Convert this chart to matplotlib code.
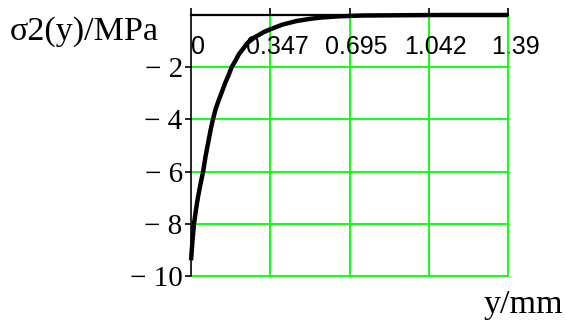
import matplotlib
matplotlib.use("Agg")
import matplotlib.pyplot as plt
import matplotlib.transforms as mtrans

# depth y [mm] and stress sigma_2 [MPa]
y_mm = [0, 0.006, 0.013, 0.021, 0.03, 0.041, 0.053, 0.064, 0.075, 0.086,
        0.096, 0.108, 0.12, 0.135, 0.15, 0.165, 0.178, 0.195, 0.21, 0.228,
        0.244, 0.262, 0.28, 0.30, 0.32, 0.347, 0.40, 0.463, 0.52, 0.566,
        0.65, 0.75, 0.9, 1.1, 1.39]
sigma2 = [-9.4, -8.7, -8.0, -7.5, -7.0, -6.5, -6.0, -5.4, -4.9, -4.4,
          -4.0, -3.6, -3.3, -2.95, -2.6, -2.3, -2.0, -1.75, -1.5, -1.3,
          -1.1, -0.97, -0.85, -0.75, -0.65, -0.55, -0.37, -0.23, -0.15, -0.10,
          -0.05, -0.02, -0.01, 0.0, 0.0]

x_ticks = [0, 0.347, 0.695, 1.042, 1.39]
x_labels = ["0", "0.347", "0.695", "1.042", "1.39"]
y_ticks = [-10, -8, -6, -4, -2]
y_labels = ["\u2212 10", "\u2212 8", "\u2212 6", "\u2212 4", "\u2212 2"]

green = '#00ff00'
serif = 'Liberation Serif'

fig = plt.figure(figsize=(5.67, 3.22), dpi=100)
ax = fig.add_axes([0.3369, 0.1429, 0.5591, 0.8105])

ax.set_xlim(0, 1.39)
ax.set_ylim(-10, 0)

# grid in bright green, like the Mathcad plot
for xv in x_ticks[1:-1]:
    ax.axvline(xv, color=green, lw=1.3, zorder=1)
for yv in y_ticks[1:]:
    ax.axhline(yv, color=green, lw=1.3, zorder=1)

ax.plot(y_mm, sigma2, color='k', lw=3.2, solid_capstyle='butt',
        clip_on=False, zorder=3)

# x axis sits at sigma = 0 (top), frame on the other sides is green
ax.spines['top'].set_linewidth(1.6)
ax.spines['left'].set_linewidth(1.2)
ax.spines['right'].set_color(green)
ax.spines['right'].set_linewidth(1.3)
ax.spines['bottom'].set_color(green)
ax.spines['bottom'].set_linewidth(1.3)
ax.spines['left'].set_zorder(4)
ax.spines['top'].set_zorder(4)

ax.xaxis.tick_top()
ax.set_xticks(x_ticks)
ax.set_xticklabels(x_labels, fontfamily='Liberation Sans', fontsize=18)
ax.tick_params(axis='x', direction='out', length=5, width=1.2, pad=-37)
shift = mtrans.ScaledTranslation(7 / 100, 0, fig.dpi_scale_trans)
for lbl in ax.get_xticklabels():
    lbl.set_transform(lbl.get_transform() + shift)

ax.set_yticks(y_ticks)
ax.set_yticklabels(y_labels, fontfamily=serif, fontsize=21)
ax.tick_params(axis='y', direction='out', length=4, width=1.2, pad=2)

fig.text(0.018, 0.876, "\u03c32(y)/MPa", fontfamily=serif, fontsize=24.5,
         ha='left', va='baseline')
fig.text(0.993, 0.028, "y/mm", fontfamily=serif, fontsize=24.5,
         ha='right', va='baseline')

fig.savefig("out.png", dpi=100)
